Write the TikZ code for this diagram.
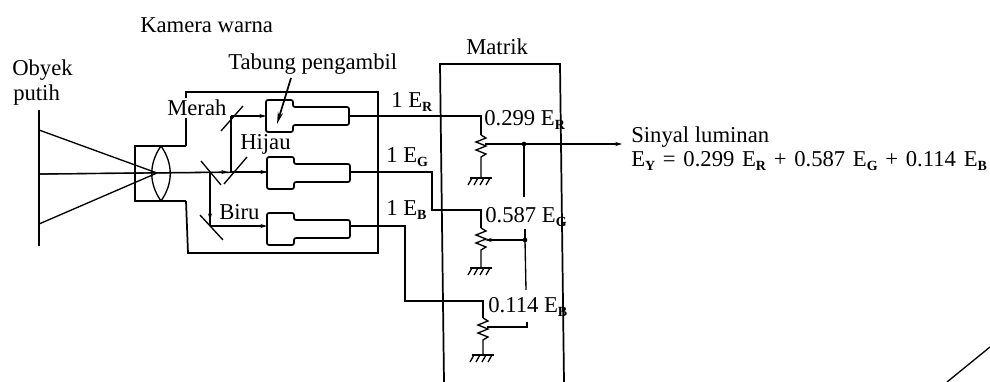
\documentclass[tikz,border=0pt]{standalone}
\usepackage{fontspec}
\setmainfont{Liberation Serif}
\usetikzlibrary{arrows.meta}
\tikzset{
  wire/.style={line width=1pt},
  heavy/.style={line width=1.3pt},
  sig/.style={line width=.9pt,-{Stealth[length=5pt,width=3pt]}},
  lab/.style={inner sep=0pt,font=\fontsize{17pt}{19pt}\selectfont},
  dot/.style={circle,fill,inner sep=0pt,minimum size=3.5pt}
}
\newcommand{\sigE}[1]{E\raisebox{-3pt}{\fontsize{10.5pt}{11pt}\selectfont\bfseries #1}}
\begin{document}
\begin{tikzpicture}[x=.75pt,y=-.75pt]
\useasboundingbox (0,0) rectangle (990,382);
% labels
\node[lab,anchor=west] (kamera) at (140,25) {Kamera warna};
\node[lab,anchor=west] (obyek) at (12,70) {Obyek};
\node[lab,anchor=west] (putih) at (13,95) {putih};
\node[lab,anchor=west] (tabung) at (228,64) {Tabung pengambil};
\node[lab,anchor=west] (merah) at (167,108) {Merah};
\node[lab,anchor=west] (hijau) at (240,144) {Hijau};
\node[lab,anchor=west] (biru) at (219,212) {Biru};
\node[lab,anchor=west] (matrik) at (466,47) {Matrik};
\node[lab,anchor=west] (sinyal) at (631,137) {Sinyal luminan};
\node[lab,anchor=west] (rumus) at (631,161) {\spaceskip=.34em \sigE{Y} = 0.299 \sigE{R} + 0.587 \sigE{G} + 0.114 \sigE{B}};
\node[lab,anchor=west] (inR) at (391,102) {1 \sigE{R}};
\node[lab,anchor=west] (inG) at (386,157) {1 \sigE{G}};
\node[lab,anchor=west] (inB) at (386,210) {1 \sigE{B}};
\node[lab,anchor=west] (outR) at (484,120) {0.299 \sigE{R}};
\node[lab,anchor=west] (outG) at (485,217) {0.587 \sigE{G}};
\node[lab,anchor=west] (outB) at (488,307) {0.114 \sigE{B}};
% object and lens
\coordinate (objtop) at (39,130);
\coordinate (objmid) at (39,174);
\coordinate (objbot) at (39,224);
\coordinate (focus) at (157,173);
\draw[wire] (39,110) -- (39,246);
\draw[wire] (objtop) -- (focus);
\draw[wire] (objbot) -- (focus);
\draw[heavy] (186,146) -- (135,146) -- (135,201) -- (186,201);
\draw[wire] (161,146) to [out=-125,in=125] (161,201);
\draw[wire] (161,146) to [out=-55,in=55] (161,201);
% camera box
\draw[heavy] (186,98) -- (186,92) -- (378,92) -- (378,253) -- (188,253) -- (186,201);
\draw[heavy] (186,146) -- (186,118);
% tubes
\foreach \n/\x/\y/\m in {R/266/100/16,G/267/157/15,B/267/213/13}{
  \draw[heavy,rounded corners=1.5pt,shift={(\x,\y)}] (0,0) -- (27,0) -- (27,7) -- (83,7) -- (83,25) -- (27,25) -- (27,32) -- (0,32) -- cycle;
  \coordinate (tube\n) at (\x,\y+\m);
  \coordinate (end\n) at (\x+83,\y+\m);
}
% mirrors
\coordinate (mirR) at (231,116);
\coordinate (mirG) at (231,172);
\coordinate (mirC) at (210,172);
\coordinate (mirB) at (210,226);
\draw[wire] (221,131) -- (243,106);
\draw[wire] (224,184) -- (247,157);
\draw[wire] (201,161) -- (221,185);
\draw[wire] (200,215) -- (223,240);
\draw[wire] (objmid) -- (tubeG);
\draw[sig] (objmid) -- (228,172);
\draw[sig] (mirG) -- (tubeG);
\draw[sig] (mirR) -- (tubeR);
\draw[wire] (mirR) -- (mirG);
\draw[wire] (mirC) -- (mirB);
\draw[sig] (mirC) -- (210,220);
\draw[sig] (mirB) -- (tubeB);
\draw[heavy,->,>={Stealth[length=9pt,width=4pt]}] (291,78) -- (277,124);
% matrix box
\draw[heavy] (444,382) -- (440,64) -- (560,64) -- (564,382);
% resistors
\foreach \n/\x/\y/\g in {R/481/135/178,G/481/228/268,B/483/318/355}{
  \coordinate (res\n) at (\x,\y);
  \draw[wire] (\x,\y) -- ++(5,3) -- ++(-10,4) -- ++(10,4) -- ++(-10,4) -- ++(10,4) -- ++(-5,3) -- (\x,\g);
  \draw[wire] (\x-11,\g) -- (\x+11,\g);
  \foreach \i in {-9,-3,3,9}\draw[wire] (\x+\i,\g) -- ++(-4,7);
}
% signal wires
\coordinate (sum) at (524,144);
\coordinate (mid) at (525,240);
\coordinate (out) at (622,144);
\draw[wire] (endR) -- (481,116) -- (resR);
\draw[wire] (endG) -- (432,172) -- (432,210) -- (481,210) -- (resG);
\draw[wire] (endB) -- (405,226) -- (405,301) -- (483,301) -- (resB);
\draw[sig] (485,144) -- (out);
\draw[wire] (sum) -- (524,197);
\draw[wire] (mid) -- (525,229);
\draw[wire] (mid) -- (526,290);
\draw[wire] (527,322) -- (527,327) -- (487,327);
\draw[sig] (mid) -- (485,240);
\node[dot] (sumdot) at (sum) {};
\node[dot] (middot) at (mid) {};
% stroke at the corner of the page
\draw[wire] (947,382) -- (990,347);
\end{tikzpicture}
\end{document}
